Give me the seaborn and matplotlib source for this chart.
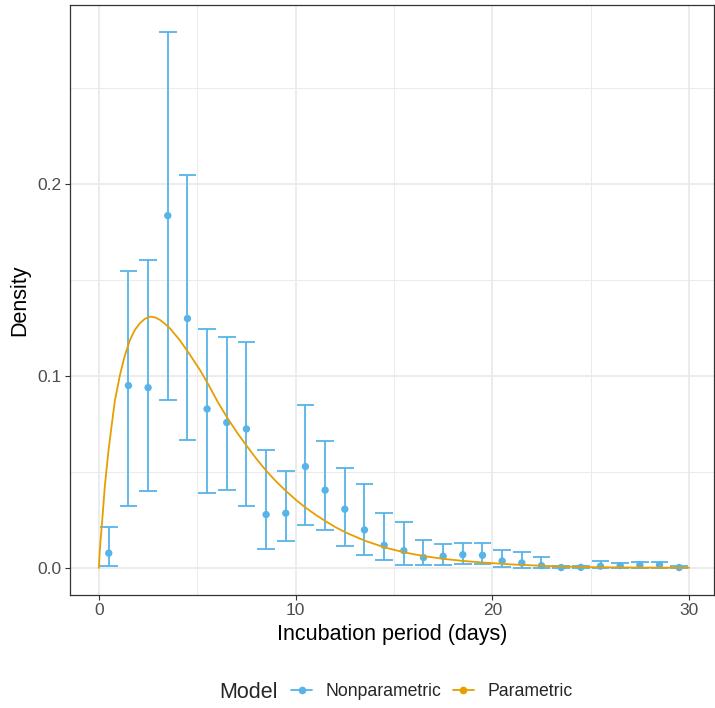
import numpy as np
import pandas as pd
import seaborn as sns
import matplotlib
matplotlib.use("Agg")
import matplotlib.pyplot as plt
from matplotlib.lines import Line2D

# ---- data ----
day = [0.5, 1.5, 2.5, 3.5, 4.5, 5.5, 6.5, 7.5, 8.5, 9.5,
       10.5, 11.5, 12.5, 13.5, 14.5, 15.5, 16.5, 17.5, 18.5, 19.5,
       20.5, 21.5, 22.5, 23.5, 24.5, 25.5, 26.5, 27.5, 28.5, 29.5]
np_density = [0.0077, 0.0950, 0.0939, 0.1835, 0.1299, 0.0828, 0.0757, 0.0724, 0.0278, 0.0285,
              0.0528, 0.0405, 0.0306, 0.0198, 0.0118, 0.0090, 0.0054, 0.0061, 0.0069, 0.0066,
              0.0036, 0.0026, 0.0012, 0.0002, 0.0003, 0.0009, 0.0012, 0.0016, 0.0016, 0.0002]
np_lower = [0.0010, 0.0323, 0.0401, 0.0873, 0.0668, 0.0389, 0.0406, 0.0325, 0.0099, 0.0142,
            0.0222, 0.0198, 0.0115, 0.0069, 0.0043, 0.0016, 0.0014, 0.0017, 0.0019, 0.0023,
            0.0007, 0.0002, 0.0000, 0.0000, 0.0000, 0.0000, 0.0000, 0.0002, 0.0000, 0.0000]
np_upper = [0.0215, 0.1549, 0.1604, 0.2790, 0.2047, 0.1243, 0.1205, 0.1175, 0.0615, 0.0503,
            0.0847, 0.0661, 0.0523, 0.0436, 0.0288, 0.0241, 0.0148, 0.0127, 0.0132, 0.0130,
            0.0094, 0.0082, 0.0056, 0.0008, 0.0012, 0.0036, 0.0026, 0.0031, 0.0031, 0.0009]

curve_day = [0.0, 0.04, 0.08, 0.17, 0.3, 0.47, 0.64, 0.81, 1.07, 1.3, 1.58, 1.83, 2.08, 2.33,
             2.59, 2.85, 3.1, 3.35, 3.61, 4.12, 4.63, 5.13, 5.56, 6.05, 6.55, 7.05, 7.54, 8.04,
             8.54, 9.04, 9.54, 10.04, 10.55, 11.04, 11.54, 12.05, 12.56, 13.54, 14.55, 15.57,
             16.55, 17.55, 18.55, 19.55, 21.0, 23.27, 25.0, 27.5, 30.0]
curve_density = [0.0, 0.008, 0.014, 0.025, 0.0424, 0.0597, 0.0736, 0.0870, 0.1005, 0.1100,
                 0.1188, 0.1240, 0.1274, 0.1297, 0.1309, 0.1305, 0.1292, 0.1272, 0.1248,
                 0.1185, 0.1110, 0.1032, 0.0956, 0.0863, 0.0778, 0.0701, 0.0632, 0.0564,
                 0.0502, 0.0447, 0.0398, 0.0352, 0.0311, 0.0275, 0.0242, 0.0211, 0.0184,
                 0.0141, 0.0106, 0.0080, 0.0061, 0.0047, 0.0036, 0.0028, 0.0018, 0.0008,
                 0.0004, 0.0002, 0.0001]

series_labels = ["Nonparametric", "Parametric"]
legend_title = "Model"
x_ticks = [0, 10, 20, 30]
y_ticks = [0.0, 0.1, 0.2]
y_tick_labels = ["0.0", "0.1", "0.2"]

BLUE = "#56B4E9"
ORANGE = "#E69F00"

sns.set_theme(style="white")
plt.rcParams["font.family"] = ["Liberation Sans", "DejaVu Sans"]

df_np = pd.DataFrame({"day": day, "density": np_density, "lower": np_lower, "upper": np_upper})
df_p = pd.DataFrame({"day": curve_day, "density": curve_density})

fig = plt.figure(figsize=(7.15, 7.08), dpi=100)
ax = fig.add_axes([70 / 715, 1 - 595 / 708, 644 / 715, 590 / 708])

ax.set_xlim(-1.47, 31.27)
ax.set_ylim(-0.0141, 0.2932)

# grid
for v in [5, 15, 25]:
    ax.axvline(v, color="#EBEBEB", lw=0.7, zorder=0)
for v in [0.05, 0.15, 0.25]:
    ax.axhline(v, color="#EBEBEB", lw=0.7, zorder=0)
for v in x_ticks:
    ax.axvline(v, color="#EBEBEB", lw=1.3, zorder=0)
for v in y_ticks:
    ax.axhline(v, color="#EBEBEB", lw=1.3, zorder=0)

# error bars
ax.vlines(df_np["day"], df_np["lower"], df_np["upper"], color=BLUE, lw=1.3, zorder=2)
ax.hlines(df_np["lower"], df_np["day"] - 0.45, df_np["day"] + 0.45, color=BLUE, lw=1.3, zorder=2)
ax.hlines(df_np["upper"], df_np["day"] - 0.45, df_np["day"] + 0.45, color=BLUE, lw=1.3, zorder=2)

sns.scatterplot(data=df_np, x="day", y="density", color=BLUE, s=28, edgecolor="none",
                ax=ax, zorder=3, legend=False)
sns.lineplot(data=df_p, x="day", y="density", color=ORANGE, lw=1.3, ax=ax, zorder=4,
             legend=False, sort=True, estimator=None)

ax.set_xticks(x_ticks)
ax.set_xticklabels([str(t) for t in x_ticks])
ax.set_yticks(y_ticks)
ax.set_yticklabels(y_tick_labels)
ax.tick_params(axis="both", which="major", length=3.5, width=0.8, color="#333333",
               labelsize=12.5, labelcolor="#4D4D4D", pad=2.5, direction="out")
ax.tick_params(bottom=True, left=True)
for s in ax.spines.values():
    s.set_color("#333333")
    s.set_linewidth(0.9)

ax.set_xlabel("Incubation period (days)", fontsize=15.5, color="black", labelpad=4)
ax.set_ylabel("Density", fontsize=15.5, color="black", labelpad=5)

handles = [Line2D([0], [0], color=BLUE, lw=1.3, marker="o", markersize=4.5),
           Line2D([0], [0], color=ORANGE, lw=1.3, marker="o", markersize=4.5)]
fig.text(278 / 715, 1 - 692 / 708, legend_title, fontsize=15.5, ha="right", va="center")
fig.legend(handles, series_labels, loc="center left", bbox_to_anchor=(291 / 715, 1 - 692 / 708),
           ncol=2, frameon=False, fontsize=12.7, handlelength=1.2, handletextpad=0.75,
           columnspacing=0.65, borderaxespad=0, borderpad=0)

fig.savefig("out.png", dpi=100)
